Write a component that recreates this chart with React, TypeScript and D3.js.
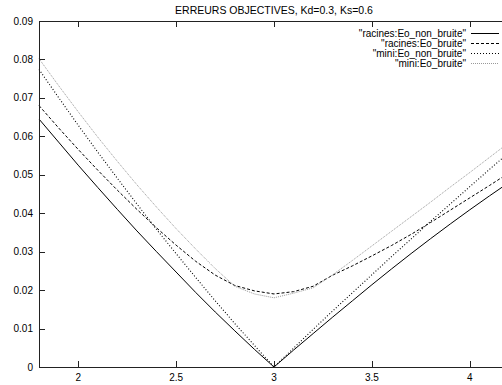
import React from "react";
import * as d3 from "d3";

const xValues = [1.8, 1.9, 2.0, 2.1, 2.2, 2.3, 2.4, 2.5, 2.6, 2.7, 2.8, 2.9, 3.0, 3.1, 3.2, 3.3, 3.4, 3.5, 3.6, 3.7, 3.8, 3.9, 4.0, 4.1, 4.2];
const racinesNonBruite = [0.0645, 0.0585, 0.0525, 0.0467, 0.041, 0.0354, 0.03, 0.0247, 0.0194, 0.0143, 0.0094, 0.0046, 0.0, 0.0044, 0.0087, 0.013, 0.0172, 0.0214, 0.0255, 0.0295, 0.0334, 0.0372, 0.0409, 0.0445, 0.048];
const racinesBruite = [0.068, 0.0622, 0.0566, 0.0512, 0.046, 0.041, 0.0362, 0.0317, 0.0275, 0.0239, 0.0212, 0.0198, 0.019, 0.0196, 0.021, 0.0239, 0.0263, 0.0289, 0.0316, 0.0345, 0.0376, 0.0408, 0.044, 0.0472, 0.0505];
const miniNonBruite = [0.0774, 0.0701, 0.0629, 0.0559, 0.0491, 0.0424, 0.0358, 0.0295, 0.0233, 0.0172, 0.0113, 0.0056, 0.0, 0.0049, 0.0098, 0.0146, 0.0193, 0.024, 0.0287, 0.0333, 0.0379, 0.0424, 0.0469, 0.0514, 0.0558];
const miniBruite = [0.0802, 0.0732, 0.0664, 0.0598, 0.0535, 0.0474, 0.0416, 0.036, 0.0307, 0.0256, 0.021, 0.019, 0.018, 0.0192, 0.0206, 0.024, 0.0277, 0.0315, 0.0353, 0.0391, 0.0429, 0.0468, 0.0506, 0.0545, 0.0584];

const seriesNames = ['"racines:Eo_non_bruite"', '"racines:Eo_bruite"', '"mini:Eo_non_bruite"', '"mini:Eo_bruite"'];
const xTicks = [2, 2.5, 3, 3.5, 4];
const yTicks = [0, 0.01, 0.02, 0.03, 0.04, 0.05, 0.06, 0.07, 0.08, 0.09];
const title = "ERREURS OBJECTIVES, Kd=0.3, Ks=0.6";

const styles = [
  { stroke: "#000", dash: "none", width: 1 },
  { stroke: "#000", dash: "3,2", width: 1 },
  { stroke: "#000", dash: "1,2", width: 1.1 },
  { stroke: "#999", dash: "1,1", width: 1 },
];

export default function App() {
  const W = 502, H = 385;
  const left = 39, right = 509, top = 21, bottom = 367;
  const x = d3.scaleLinear().domain([1.8, 4.2]).range([left, right]);
  const y = d3.scaleLinear().domain([0, 0.09]).range([bottom, top]);
  const allSeries = [racinesNonBruite, racinesBruite, miniNonBruite, miniBruite];
  const line = d3.line<number>().x((_, i) => x(xValues[i])).y((d) => y(d));
  const font = "Liberation Sans, Arial, Helvetica, sans-serif";
  const tl = 6;

  return (
    <svg width={W} height={H} style={{ position: "absolute", left: 0, top: 0, background: "#fff" }} fontFamily={font}>
      <rect x={0} y={0} width={W} height={H} fill="#fff" />
      <text x={(left + right) / 2} y={14} textAnchor="middle" fontSize={10.5} fill="#000">{title}</text>
      {/* series */}
      <g>
        {allSeries.map((s, k) => (
          <path key={k} d={line(s) || ""} fill="none" stroke={styles[k].stroke} strokeWidth={styles[k].width} strokeDasharray={styles[k].dash} />
        ))}
      </g>
      {/* frame */}
      <rect x={left + 0.5} y={top + 0.5} width={right - left} height={bottom - top} fill="none" stroke="#222" strokeWidth={1} />
      {/* y ticks */}
      {yTicks.map((t) => (
        <g key={"y" + t}>
          <line x1={left} x2={left + tl} y1={Math.round(y(t)) + 0.5} y2={Math.round(y(t)) + 0.5} stroke="#222" />
          <line x1={right - tl} x2={right} y1={Math.round(y(t)) + 0.5} y2={Math.round(y(t)) + 0.5} stroke="#222" />
          <text x={33} y={y(t) + 3.5} textAnchor="end" fontSize={10} fill="#000">{t === 0 ? "0" : d3.format(".2f")(t)}</text>
        </g>
      ))}
      {/* x ticks */}
      {xTicks.map((t) => (
        <g key={"x" + t}>
          <line x1={Math.round(x(t)) + 0.5} x2={Math.round(x(t)) + 0.5} y1={bottom} y2={bottom - tl} stroke="#222" />
          <line x1={Math.round(x(t)) + 0.5} x2={Math.round(x(t)) + 0.5} y1={top} y2={top + tl} stroke="#222" />
          <text x={x(t)} y={381} textAnchor="middle" fontSize={10} fill="#000">{String(t)}</text>
        </g>
      ))}
      {/* legend */}
      {seriesNames.map((n, k) => (
        <g key={"l" + k}>
          <text x={466} y={33 + k * 10 + 3.5} textAnchor="end" fontSize={10} fill="#000">{n}</text>
          <line x1={471} x2={499} y1={33 + k * 10 + 0.5} y2={33 + k * 10 + 0.5} stroke={styles[k].stroke} strokeWidth={styles[k].width} strokeDasharray={styles[k].dash} />
        </g>
      ))}
    </svg>
  );
}
